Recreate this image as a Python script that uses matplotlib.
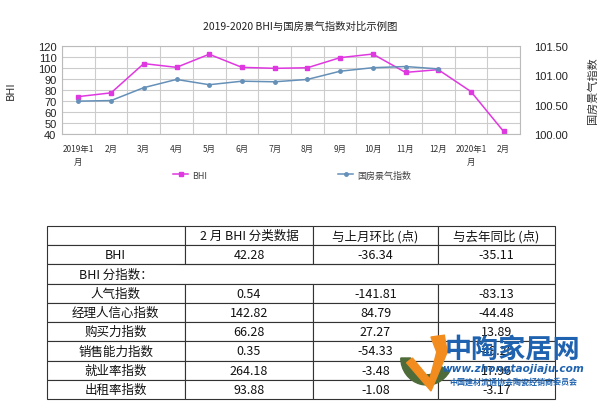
import numpy as np
import matplotlib.pyplot as plt
from matplotlib.patches import Polygon, Wedge

plt.rcParams['font.family'] = ['Noto Sans CJK SC', 'DejaVu Sans']

# chart data
months = ["2019年1\n月", "2月", "3月", "4月", "5月", "6月", "7月", "8月", "9月",
          "10月", "11月", "12月", "2020年1\n月", "2月"]
bhi = [74, 77.4, 104, 100.6, 112.5, 100.6, 99.7, 100.2, 109.4, 112.7, 96, 98.5, 78.6, 42.28]
guofang = [100.56, 100.57, 100.79, 100.93, 100.84, 100.90, 100.89, 100.93,
           101.07, 101.13, 101.15, 101.11]

# table data
col_labels = ["", "2 月 BHI 分类数据", "与上月环比 (点)", "与去年同比 (点)"]
row_names = ["BHI", "BHI 分指数：", "人气指数", "经理人信心指数", "购买力指数",
             "销售能力指数", "就业率指数", "出租率指数"]
feb_vals = ["42.28", "", "0.54", "142.82", "66.28", "0.35", "264.18", "93.88"]
mom_vals = ["-36.34", "", "-141.81", "84.79", "27.27", "-54.33", "-3.48", "-1.08"]
yoy_vals = ["-35.11", "", "-83.13", "-44.48", "13.89", "-49.20", "17.96", "-3.17"]

fig = plt.figure(figsize=(6, 4.1), dpi=100)

# ---- line chart
ax = fig.add_axes([62/600, 1-135/410, 458/600, 88/410])
x = np.arange(len(months))
ax.plot(x, bhi, color="#E038E0", lw=1.1, marker="s", ms=2.5, label="BHI")
ax.set_xlim(-0.5, len(months) - 0.5)
ax.set_ylim(40, 120)
ax.set_yticks(range(40, 121, 10))
ax.set_xticks(x)
ax.set_xticklabels(months, fontsize=6, color="#333333", linespacing=1.6)
ax.set_xticks(np.arange(-0.5, len(months), 1), minor=True)
ax.tick_params(axis="x", which="both", length=0, pad=7)
ax.tick_params(axis="y", length=0, labelsize=8, pad=4, labelcolor="#222222")
for lb in ax.get_yticklabels():
    lb.set_family("Liberation Sans")
ax.grid(True, axis="y", color="#cccccc", lw=0.8)
ax.grid(True, axis="x", which="minor", color="#cccccc", lw=0.8)
for s in ax.spines.values():
    s.set_color("#bbbbbb")
ax.set_ylabel("BHI", fontsize=8, labelpad=16, color="#333333")

ax2 = ax.twinx()
ax2.plot(x[:len(guofang)], guofang, color="#6590B8", lw=1.1, marker="o", ms=2.5,
         label="国房景气指数")
ax2.set_ylim(100.0, 101.5)
ax2.set_yticks([100.0, 100.5, 101.0, 101.5])
ax2.set_yticklabels(["100.00", "100.50", "101.00", "101.50"])
ax2.tick_params(axis="y", length=0, labelsize=8, pad=10, labelcolor="#222222")
for lb in ax2.get_yticklabels():
    lb.set_family("Liberation Sans")
for s in ax2.spines.values():
    s.set_visible(False)
ax2.set_ylabel("国房景气指数", fontsize=8, labelpad=14, color="#333333")

fig.text(0.5, 1-27/410, "2019-2020 BHI与国房景气指数对比示例图", ha="center",
         va="center", fontsize=7.5, color="#222222")

h1, l1 = ax.get_legend_handles_labels()
h2, l2 = ax2.get_legend_handles_labels()
fig.legend(h1 + h2, l1 + l2, loc="center", bbox_to_anchor=(292/600, 1-176/410), ncol=2,
           frameon=False, fontsize=6.5, columnspacing=14.5, handlelength=1.7,
           handletextpad=0.4, labelcolor="#444444")

# ---- table
tax = fig.add_axes([46.5/600, 1-400/410, 508.5/600, 173/410])
tax.axis("off")
cells = [[n, a, b, c] for n, a, b, c in zip(row_names, feb_vals, mom_vals, yoy_vals)]
tbl = tax.table(cellText=cells, colLabels=col_labels, bbox=[0, 0, 1, 1],
                colWidths=[138.5, 128, 125, 117], cellLoc="center")
tbl.auto_set_font_size(False)
for (r, c), cell in tbl.get_celld().items():
    cell.set_edgecolor("#333333")
    cell.set_linewidth(0.8)
    cell.get_text().set_fontsize(9)
    cell.get_text().set_color("#111111")
    if r == 2:
        cell.visible_edges = {0: "LTB", 3: "RTB"}.get(c, "TB")

# ---- watermark
fig.text(512/600, 1-350/410, "中陶家居网", ha="center", va="center", fontsize=19.5,
         fontweight="bold", color="#1F63B0")
fig.text(513/600, 1-369/410, "www.zhongtaojiaju.com", ha="center", va="center",
         fontsize=7.6, fontweight="bold", style="italic", color="#1F63B0",
         family="DejaVu Sans")
fig.text(513/600, 1-382/410, "中国建材流通协会陶瓷经销商委员会", ha="center", va="center",
         fontsize=5.8, fontweight="bold", color="#1F63B0")
wax = fig.add_axes([395/600, 1-395/410, 58/600, 60/410])
wax.set_xlim(0, 1)
wax.set_ylim(0, 1)
wax.axis("off")
wax.add_patch(Wedge((0.55, 0.6), 0.45, 180, 330, width=0.17, color="#4E6B3A"))
wax.add_patch(Polygon([[0.3, 0.6], [0.6, 0.25], [0.72, 0.7], [0.62, 0.95],
                       [0.85, 0.98], [0.9, 0.7], [0.62, 0.05], [0.2, 0.52]],
                      closed=True, color="#F28C1E"))

fig.savefig("out.png", dpi=100)
